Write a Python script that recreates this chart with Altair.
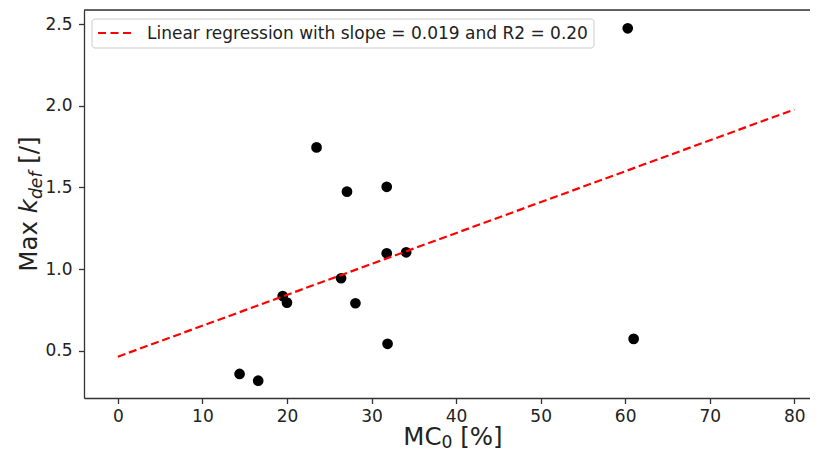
import altair as alt
import pandas as pd

# ---- data ----
mc0 = [23.5, 27.1, 31.8, 31.8, 34.1, 26.4, 19.5, 20.0, 28.1, 31.9, 14.4, 16.6, 61.0, 60.3]
kdef = [1.745, 1.474, 1.504, 1.097, 1.103, 0.944, 0.835, 0.795, 0.791, 0.543, 0.358, 0.317, 0.573, 2.474]

line_x = [0, 80]
line_y = [0.464, 1.977]

slope = 0.019
r2 = 0.20

x_ticks = [0, 10, 20, 30, 40, 50, 60, 70, 80]
y_ticks = [0.5, 1.0, 1.5, 2.0, 2.5]

legend_label = f"Linear regression with slope = {slope:.3f} and R2 = {r2:.2f}"

W, H = 726, 388
FONT = "DejaVu Sans"
AX = "#333333"
TXT = "#222222"
TF = 24.5   # title font size
SF = 17.2   # subscript font size
LF = 17     # tick / legend font size

pts = pd.DataFrame({"mc0": mc0, "kdef": kdef})
reg = pd.DataFrame({"mc0": line_x, "kdef": line_y})
one = pd.DataFrame({"a": [0]})

xscale = alt.Scale(domain=[-4, -4 + W / 8.456], nice=False, zero=False)
yscale = alt.Scale(domain=[0.211, 2.586], nice=False, zero=False)

xaxis = alt.Axis(values=x_ticks, format="d", title=None, grid=False,
                 tickSize=5.5, labelPadding=5,
                 labelFontSize=LF, labelFont=FONT, labelColor=TXT,
                 domainColor=AX, tickColor=AX, domainWidth=1.3, tickWidth=1.3)
yaxis = alt.Axis(values=y_ticks, format=".1f", title=None, grid=False,
                 tickSize=5.5, labelPadding=6.5,
                 labelFontSize=LF, labelFont=FONT, labelColor=TXT,
                 domainColor=AX, tickColor=AX, domainWidth=1.3, tickWidth=1.3)

points = alt.Chart(pts).mark_circle(size=115, color="black", opacity=1).encode(
    x=alt.X("mc0:Q", scale=xscale, axis=xaxis),
    y=alt.Y("kdef:Q", scale=yscale, axis=yaxis),
)

line = alt.Chart(reg).mark_line(color="#ff0000", strokeWidth=2.2, strokeDash=[8, 3.8]).encode(
    x=alt.X("mc0:Q", scale=xscale),
    y=alt.Y("kdef:Q", scale=yscale),
)

top_spine = alt.Chart(one).mark_rule(color=AX, strokeWidth=1.3).encode(
    x=alt.value(0), x2=alt.value(W), y=alt.value(0)
)

# legend box
leg_box = alt.Chart(one).mark_rect(fill="white", stroke="#cccccc", strokeWidth=1, cornerRadius=3).encode(
    x=alt.value(8), x2=alt.value(510), y=alt.value(9), y2=alt.value(38)
)
leg_sym = alt.Chart(one).mark_rule(color="#ff0000", strokeWidth=2.2, strokeDash=[8, 4.5]).encode(
    x=alt.value(14), x2=alt.value(49), y=alt.value(23)
)
leg_txt = alt.Chart(one).mark_text(align="left", baseline="middle", fontSize=LF, font=FONT,
                                   color=TXT).encode(
    x=alt.value(63), y=alt.value(23.5), text=alt.value(legend_label)
)


def piece(txt, x, y, size=TF, italic=False, angle=0):
    kw = dict(align="left", baseline="alphabetic", fontSize=size, font=FONT, color=TXT)
    if angle:
        kw["angle"] = angle
    if italic:
        kw["fontStyle"] = "italic"
    return alt.Chart(one).mark_text(**kw).encode(
        x=alt.value(x), y=alt.value(y), text=alt.value(txt)
    )


# y-axis title: Max k_def [/]  (rotated, reading bottom to top)
yb = 261.7
tx = -47.5
sp = 0.318 * TF
yt1 = piece("Max", tx, yb, angle=270)
yk = yb - 2.068 * TF - sp
yt2 = piece("k", tx, yk, italic=True, angle=270)
yd = yk - 0.579 * TF
yt3 = piece("def", tx + 5, yd, size=SF, italic=True, angle=270)
ys = yd - 1.602 * SF - sp
yt4 = piece("[/]", tx, ys, angle=270)

# x-axis title: MC_0 [%]
xb = 435
x0 = 319.3
xt1 = piece("MC", x0, xb)
xs0 = x0 + 1.561 * TF
xt2 = piece("0", xs0, xb + 3.2, size=SF)
xt3 = piece("[%]", xs0 + 0.636 * SF + sp, xb)

chart = alt.layer(points, line, top_spine, leg_box, leg_sym, leg_txt,
                  yt1, yt2, yt3, yt4, xt1, xt2, xt3).properties(
    width=W, height=H,
    autosize=alt.AutoSizeParams(type="none"),
    padding={"left": 76, "top": 2, "right": 0, "bottom": 53},
).configure_view(strokeWidth=0).configure(font=FONT)

chart.save("out.html", embed_options={"renderer": "svg", "actions": False})
